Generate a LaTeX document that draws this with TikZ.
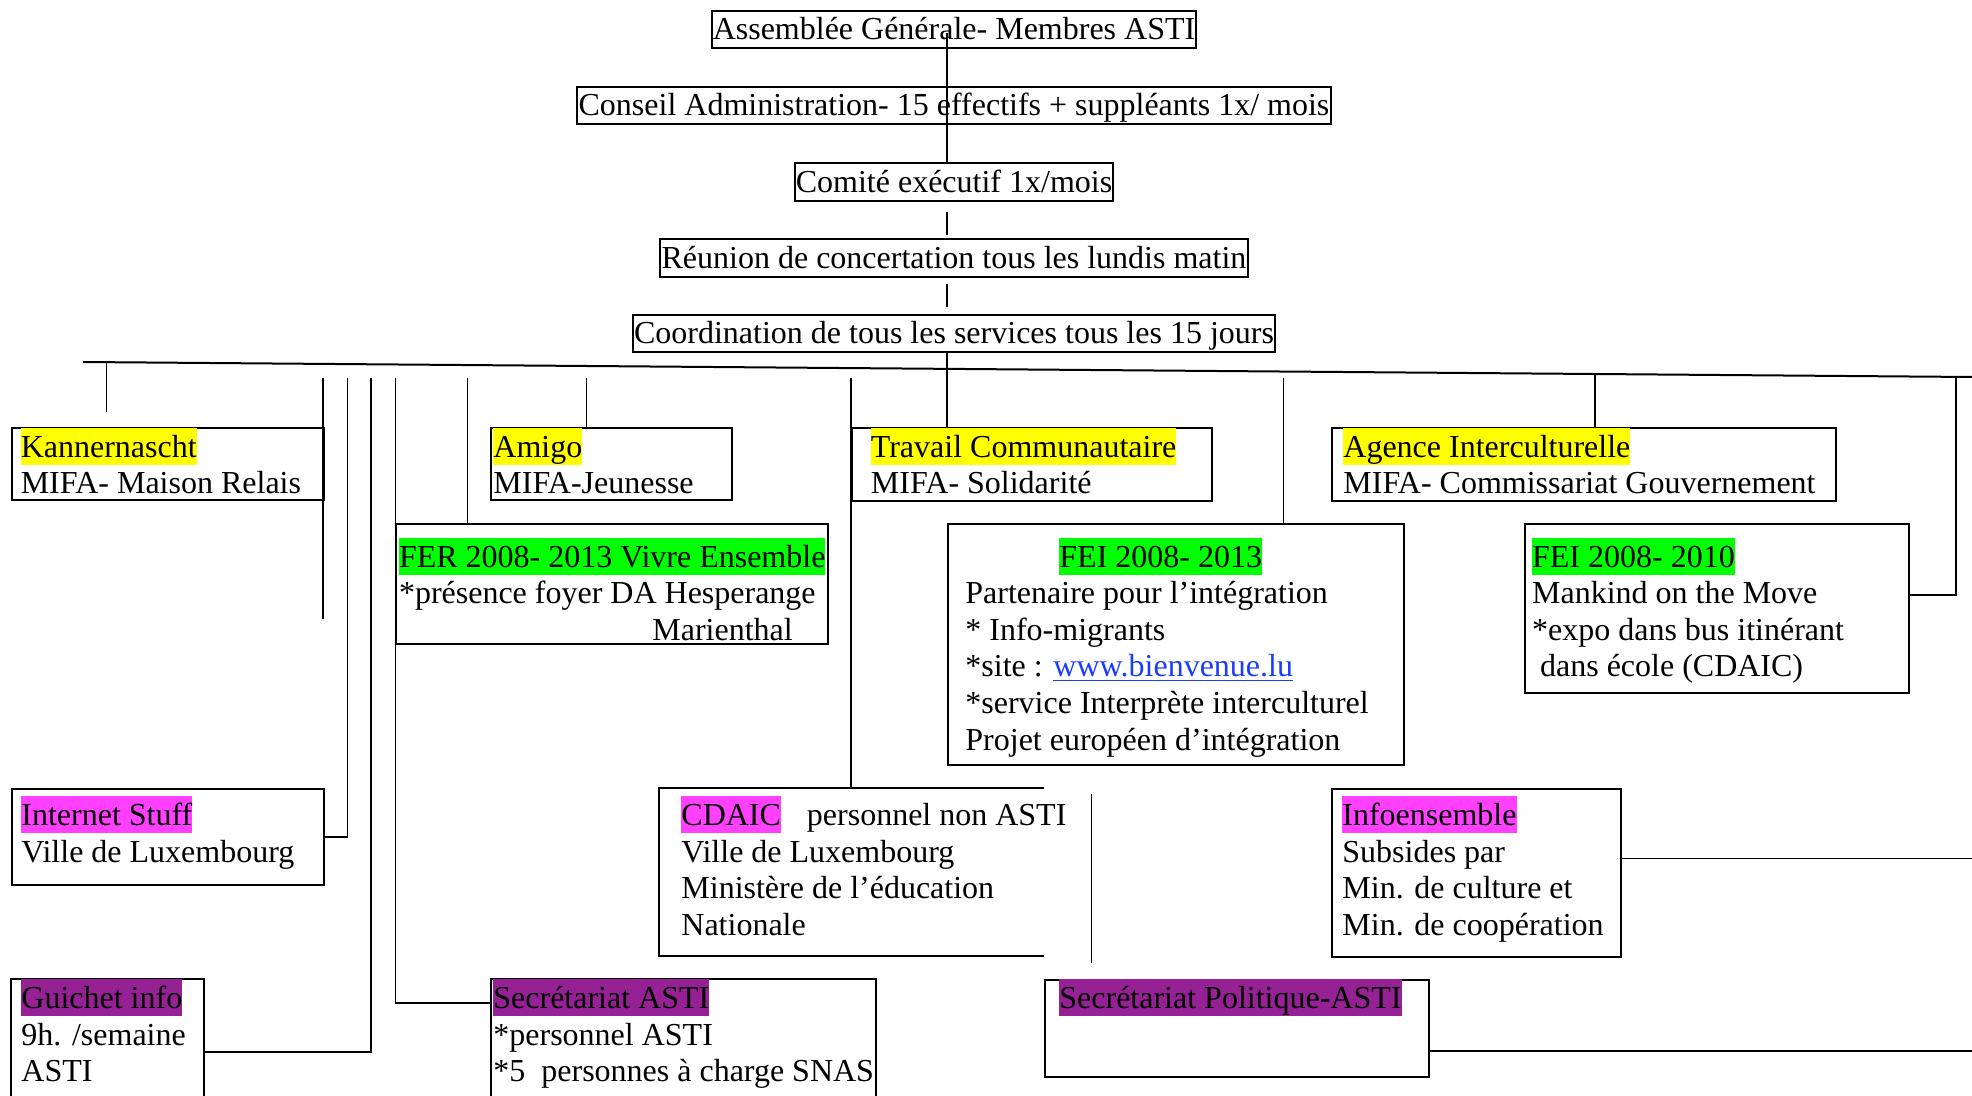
\documentclass[tikz,border=0pt]{standalone}
\usepackage{fontspec}
\setmainfont{Liberation Serif}
\usetikzlibrary{calc}
\definecolor{hlyellow}{HTML}{FFFF00}
\definecolor{hlgreen}{HTML}{00FF00}
\definecolor{hlmag}{HTML}{FF40FF}
\definecolor{hlpurple}{HTML}{952194}
\definecolor{linkblue}{HTML}{1A3CFF}
\newcommand\hlb[2]{{\fboxsep=0pt\colorbox{#1}{\rule[-4pt]{0pt}{18.5pt}#2}}}
\newcommand\tstrut{\rule[-4pt]{0pt}{18.5pt}}
\newcommand\chartfont{\fontsize{16}{18.3}\selectfont}
\AtBeginDocument{\lineskiplimit=-20pt\relax}
\begin{document}
\begin{tikzpicture}[x=0.5pt,y=-0.5pt,
  every node/.style={font=\chartfont},
  topbox/.style={draw,line width=1pt,inner xsep=0.6pt,inner ysep=0.2pt},
  frame/.style={draw,line width=1pt,anchor=north west,inner sep=0pt},
  openframe/.style={anchor=north west,inner sep=0pt},
  frameline/.style={line width=1pt},
  txt/.style={anchor=north west,inner sep=0pt,align=left},
  conn/.style={line width=0.65pt},
  busline/.style={line width=1pt}]
\useasboundingbox (0,0) rectangle (1972,1096);

% top chain
\node[topbox] (b1) at (954,29.5) {\tstrut Assemblée Générale- Membres ASTI};
\node[topbox] (b2) at (954,105.5) {\tstrut Conseil Administration- 15 effectifs + suppléants 1x/ mois};
\node[topbox] (b3) at (954,182) {\tstrut Comité exécutif 1x/mois};
\node[topbox] (b4) at (954,258) {\tstrut Réunion de concertation tous les lundis matin};
\node[topbox] (b5) at (954,333.5) {\tstrut Coordination de tous les services tous les 15 jours};
\coordinate (vx) at (947,0);
\draw[conn] ($(b1.center -| vx)+(0,4)$) -- (b3.north -| vx);
\draw[conn,shorten <=5pt,shorten >=1.5pt] (b3.south -| vx) -- (b4.north -| vx);
\draw[conn,shorten <=3pt,shorten >=3.5pt] (b4.south -| vx) -- (b5.north -| vx);

% frames
\node[frame,minimum width=156pt,minimum height=36pt] (kan) at (11,427) {};
\node[frame,minimum width=120.5pt,minimum height=36pt] (amigo) at (490,427) {};
\node[frame,minimum width=180pt,minimum height=36.5pt] (trav) at (851,427) {};
\node[frame,minimum width=252pt,minimum height=36.5pt] (agence) at (1331,427) {};
\node[frame,minimum width=215.8pt,minimum height=60pt] (fer) at (395.4,523) {};
\node[frame,minimum width=228.25pt,minimum height=120.5pt] (fei1) at (946.5,523) {};
\node[frame,minimum width=192.25pt,minimum height=84.5pt] (fei2) at (1523.5,523) {};
\node[frame,minimum width=156pt,minimum height=48pt] (inet) at (11,788) {};
\node[openframe,minimum width=192.3pt,minimum height=83.5pt] (cdaic) at (659,788) {};
\draw[frameline] (cdaic.north east) -- (cdaic.north west) -- (cdaic.south west) -- (cdaic.south east);
\node[frame,minimum width=144.5pt,minimum height=83.85pt] (infoens) at (1331,788) {};
\node[openframe,minimum width=96pt,minimum height=60pt] (guich) at (11,979) {};
\draw[frameline] (guich.south west) -- (guich.north west) -- (guich.north east) -- (guich.south east);
\node[openframe,minimum width=192pt,minimum height=60pt] (secasti) at (491,979) {};
\draw[frameline] (secasti.south west) -- (secasti.north west) -- (secasti.north east) -- (secasti.south east);
\node[frame,minimum width=192.1pt,minimum height=48.35pt] (secpol) at (1043.6,979) {};

% bus and drops
\coordinate (busL) at (83,362);
\coordinate (busR) at (1972,377);
\draw[busline] (busL) -- (busR);
\draw[conn] (b5.south -| vx) -- (trav.north -| vx);
\coordinate (k0) at (106.5,363);
\draw[conn] (k0) -- ++(0,49);
\coordinate (t1) at (323,378); \coordinate (e1) at (323,619);
\draw[conn] (t1) -- (e1);
\coordinate (t2) at (347.6,378);
\draw[conn] (t2) |- (inet.east);
\coordinate (t3) at (371,378);
\draw[conn] (t3) |- ($(guich.north east)+(0,73)$);
\coordinate (t4) at (395.4,378);
\draw[conn] (t4) |- ($(secasti.north west)+(0,24)$);
\coordinate (t5) at (467.5,378);
\draw[conn] (t5) -- (t5 |- fer.north);
\coordinate (t6) at (586.7,378);
\draw[conn] (t6) -- (t6 |- amigo.north);
\coordinate (t7) at (851,378);
\draw[conn] (t7) -- (t7 |- cdaic.north);
\coordinate (t8) at (1283.5,378);
\draw[conn] (t8) -- (t8 |- fei1.north);
\coordinate (t9) at (1595,374);
\draw[conn] (t9) -- (t9 |- agence.north);
\coordinate (t10) at (1956,377);
\draw[conn] (t10) |- ($(fei2.north east)+(0,72)$);
\coordinate (v1) at (1091.4,794); \coordinate (v2) at (1091.4,963);
\draw[conn] (v1) -- (v2);
\coordinate (r1) at (1972,858.7);
\draw[conn] (infoens.east |- r1) -- (r1);
\coordinate (r2) at (1972,1051);
\draw[conn] (secpol.east |- r2) -- (r2);

% texts
\node[txt] (kanT) at (20.4,428) {\hlb{hlyellow}{Kannernascht}\\MIFA- Maison Relais};
\node[txt] (amiT) at (493,428) {\hlb{hlyellow}{Amigo}\\MIFA-Jeunesse};
\node[txt] (travT) at (870.5,428) {\hlb{hlyellow}{Travail Communautaire}\\MIFA- Solidarité};
\node[txt] (ageT) at (1343,428) {\hlb{hlyellow}{Agence Interculturelle}\\MIFA- Commissariat Gouvernement};
\node[txt] (ferT) at (398.6,537.7) {\hlb{hlgreen}{FER 2008- 2013 Vivre Ensemble}\\{}*présence foyer DA Hesperange\\\hspace*{126.7pt}Marienthal};
\node[txt] (fei1T) at (965,537.7) {\hspace*{47pt}\hlb{hlgreen}{FEI 2008- 2013}\\Partenaire pour l’intégration\\{}* Info-migrants\\{}*site : \textcolor{linkblue}{\underline{www.bienvenue.lu}}\\{}*service Interprète interculturel\\Projet européen d’intégration};
\node[txt] (fei2T) at (1531.7,537.7) {\hlb{hlgreen}{FEI 2008- 2010}\\Mankind on the Move\\{}*expo dans bus itinérant\\\hspace*{4pt}dans école (CDAIC)};
\node[txt] (inetT) at (21,796) {\hlb{hlmag}{Internet Stuff}\\Ville de Luxembourg};
\node[txt] (cdaicT) at (681,796) {\hlb{hlmag}{CDAIC}\hspace{13pt}personnel non ASTI\\Ville de Luxembourg\\Ministère de l’éducation\\Nationale};
\node[txt] (infoT) at (1342,796) {\hlb{hlmag}{Infoensemble}\\Subsides par\\Min. de culture et\\Min. de coopération};
\node[txt] (guiT) at (21,979) {\hlb{hlpurple}{Guichet info}\\9h. /semaine\\ASTI};
\node[txt] (secT) at (493,979) {\hlb{hlpurple}{Secrétariat ASTI}\\{}*personnel ASTI\\{}*5\ \ personnes à charge SNAS};
\node[txt] (polT) at (1059,979) {\hlb{hlpurple}{Secrétariat Politique-ASTI}};
\end{tikzpicture}
\end{document}
